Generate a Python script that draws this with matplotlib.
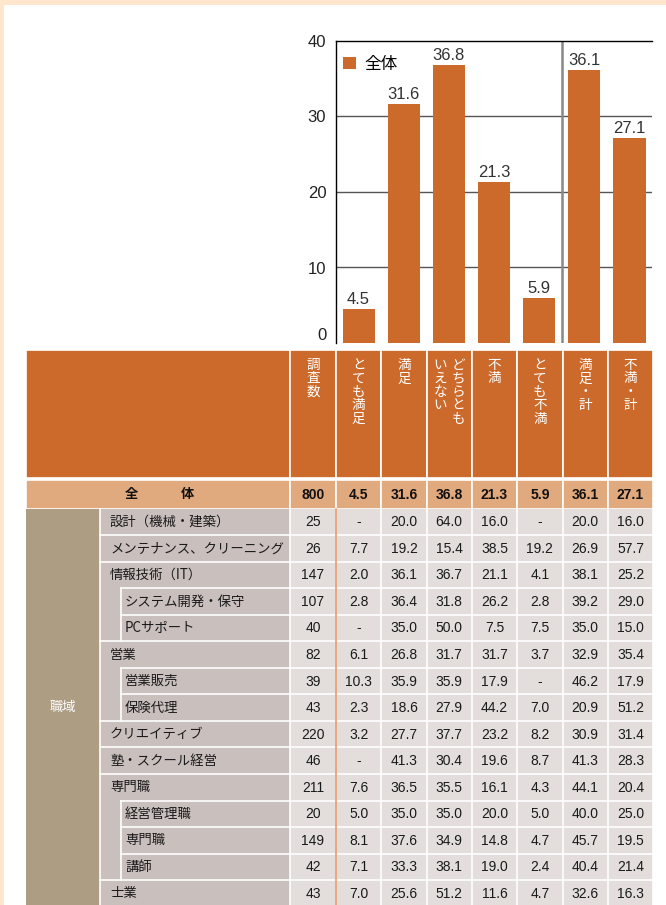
import matplotlib.pyplot as plt
from matplotlib.patches import Rectangle

plt.rcParams['font.family'] = ['Liberation Sans', 'Noto Sans CJK JP', 'DejaVu Sans']
JP = ['Noto Sans CJK JP', 'DejaVu Sans']

# data
col_heads = ['調査数', 'とても満足', '満足', 'どちらとも|いえない', '不満', 'とても不満', '満足・計', '不満・計']
bar_cats = ['とても満足', '満足', 'どちらとも\nいえない', '不満', 'とても不満', '満足・計', '不満・計']
overall_n = 800
overall = [4.5, 31.6, 36.8, 21.3, 5.9, 36.1, 27.1]

group_label = '職域'
row_labels = ['設計（機械・建築）', 'メンテナンス、クリーニング', '情報技術（IT）', 'システム開発・保守',
              'PCサポート', '営業', '営業販売', '保険代理', 'クリエイティブ', '塾・スクール経営',
              '専門職', '経営管理職', '専門職', '講師', '士業']
row_child = [0, 0, 0, 1, 1, 0, 1, 1, 0, 0, 0, 1, 1, 1, 0]
row_n = [25, 26, 147, 107, 40, 82, 39, 43, 220, 46, 211, 20, 149, 42, 43]
row_vals = [
    [None, 20.0, 64.0, 16.0, None, 20.0, 16.0],
    [7.7, 19.2, 15.4, 38.5, 19.2, 26.9, 57.7],
    [2.0, 36.1, 36.7, 21.1, 4.1, 38.1, 25.2],
    [2.8, 36.4, 31.8, 26.2, 2.8, 39.2, 29.0],
    [None, 35.0, 50.0, 7.5, 7.5, 35.0, 15.0],
    [6.1, 26.8, 31.7, 31.7, 3.7, 32.9, 35.4],
    [10.3, 35.9, 35.9, 17.9, None, 46.2, 17.9],
    [2.3, 18.6, 27.9, 44.2, 7.0, 20.9, 51.2],
    [3.2, 27.7, 37.7, 23.2, 8.2, 30.9, 31.4],
    [None, 41.3, 30.4, 19.6, 8.7, 41.3, 28.3],
    [7.6, 36.5, 35.5, 16.1, 4.3, 44.1, 20.4],
    [5.0, 35.0, 35.0, 20.0, 5.0, 40.0, 25.0],
    [8.1, 37.6, 34.9, 14.8, 4.7, 45.7, 19.5],
    [7.1, 33.3, 38.1, 19.0, 2.4, 40.4, 21.4],
    [7.0, 25.6, 51.2, 11.6, 4.7, 32.6, 16.3],
]

ORANGE = '#cc6a2c'
W, H = 666, 905

fig = plt.figure(figsize=(W / 100, H / 100), dpi=100, facecolor='#ffe6cc')

# table / background axes in pixel coordinates
ax_t = fig.add_axes([0, 0, 1, 1])
ax_t.set_xlim(0, W)
ax_t.set_ylim(H, 0)
ax_t.axis('off')
ax_t.add_patch(Rectangle((4, 5), W, H, facecolor='white', edgecolor='none'))

x_tab, x_lab, x_child, x_n, x_d = 26, 100, 121, 290, 336
cw = 45.3
n_cols = len(overall)
x_end = x_d + cw * n_cols
col_x = [x_n] + [x_d + cw * i for i in range(n_cols + 1)]
hy0, hy1 = 350, 478
oy0, oy1 = 479.5, 508.5
rh = 26.55
ry = [oy1 + rh * i for i in range(len(row_labels) + 1)]
lw = 1.2


def fmt(v):
    return '-' if v is None else f'{v:.1f}'


# header
ax_t.add_patch(Rectangle((x_tab, hy0), x_n - x_tab, hy1 - hy0, facecolor=ORANGE, edgecolor='white', lw=lw))
pitch = 13.4
for j, head in enumerate(col_heads):
    cx = (col_x[j] + col_x[j + 1]) / 2
    ax_t.add_patch(Rectangle((col_x[j], hy0), col_x[j + 1] - col_x[j], hy1 - hy0,
                             facecolor=ORANGE, edgecolor='white', lw=lw))
    parts = head.split('|')
    offs = [0] if len(parts) == 1 else [9, -9]
    for part, off in zip(parts, offs):
        for k, ch in enumerate(part):
            ax_t.text(cx + off, 365 + k * pitch, ch, ha='center', va='center', color='white',
                      fontsize=9.8, family=JP)

# overall row
OV = '#e1a97e'
ax_t.add_patch(Rectangle((x_tab, oy0), x_n - x_tab, oy1 - oy0, facecolor=OV, edgecolor='white', lw=lw))
for ch, xc in zip('全体', [131, 187]):
    ax_t.text(xc, (oy0 + oy1) / 2, ch, ha='center', va='center',
              fontsize=9.5, fontweight='bold', family=JP, color='#111')
for j, v in enumerate([overall_n] + overall):
    ax_t.add_patch(Rectangle((col_x[j], oy0), col_x[j + 1] - col_x[j], oy1 - oy0,
                             facecolor=OV, edgecolor='white', lw=lw))
    txt = str(v) if j == 0 else fmt(v)
    ax_t.text((col_x[j] + col_x[j + 1]) / 2, (oy0 + oy1) / 2 + 0.5, txt, ha='center', va='center',
              fontsize=10, fontweight='bold', color='#111')

# body fills
y_bot = ry[-1]
ax_t.add_patch(Rectangle((x_tab, oy1), x_lab - x_tab, y_bot - oy1, facecolor='#ac9d83', edgecolor='none'))
ax_t.add_patch(Rectangle((x_lab, oy1), x_n - x_lab, y_bot - oy1, facecolor='#c9bfbc', edgecolor='none'))
ax_t.add_patch(Rectangle((x_n, oy1), x_end - x_n, y_bot - oy1, facecolor='#e3dedc', edgecolor='none'))
ax_t.text((x_tab + x_lab) / 2, (oy1 + y_bot) / 2, group_label, ha='center', va='center',
          color='white', fontsize=9.5, family=JP)

for i, lab in enumerate(row_labels):
    yc = (ry[i] + ry[i + 1]) / 2
    ax_t.text(x_child + 4 if row_child[i] else x_lab + 10, yc, lab, ha='left', va='center',
              fontsize=9.6, family=JP, color='#1a1a1a')
    ax_t.text((col_x[0] + col_x[1]) / 2, yc + 0.5, str(row_n[i]), ha='center', va='center',
              fontsize=10, color='#1a1a1a')
    for j, v in enumerate(row_vals[i]):
        ax_t.text((col_x[j + 1] + col_x[j + 2]) / 2, yc + 0.5, fmt(v), ha='center', va='center',
                  fontsize=10, color='#1a1a1a')
    # white line under the row
    nxt_child = i + 1 < len(row_labels) and row_child[i + 1]
    ax_t.plot([x_child if nxt_child else x_lab, x_end], [ry[i + 1], ry[i + 1]], color='white', lw=lw)
    if row_child[i]:
        ax_t.plot([x_child, x_child], [ry[i], ry[i + 1]], color='white', lw=lw)

ax_t.plot([x_lab, x_lab], [oy1, y_bot], color='white', lw=lw)
for j, xx in enumerate(col_x):
    if j == 1:
        ax_t.plot([xx, xx], [oy1, y_bot], color='#eb9f6a', lw=lw)
    else:
        ax_t.plot([xx, xx], [oy1, y_bot], color='white', lw=lw)

# bar chart
ax = fig.add_axes([x_d / W, 1 - 343 / H, (x_end - 1 - x_d) / W, (343 - 41) / H])
xs = list(range(n_cols))
bars = ax.bar(xs, overall, width=0.71, color=ORANGE, label='全体', zorder=3)
for b, v in zip(bars, overall):
    ax.text(b.get_x() + b.get_width() / 2, v + 0.3, f'{v:.1f}', ha='center', va='bottom',
            fontsize=12, color='#333', zorder=4)
ax.set_xlim(-0.5, n_cols - 0.5)
ax.set_ylim(0, 40)
ax.set_yticks([0, 10, 20, 30, 40])
ax.set_xticks([])
ax.tick_params(axis='y', length=0, pad=7, labelsize=12, labelcolor='#222')
ax.get_yticklabels()[0].set_va('bottom')
for y in [10, 20, 30]:
    ax.axhline(y, color='#555', lw=1, zorder=1)
ax.axvline(4.5, color='#888', lw=1.8, zorder=2)
for s in ['right', 'bottom']:
    ax.spines[s].set_visible(False)
ax.spines['left'].set_color('black')
ax.spines['top'].set_color('black')
ax.spines['left'].set_linewidth(1)
ax.spines['top'].set_linewidth(1)
ax.set_facecolor('white')
leg = ax.legend(loc='upper left', bbox_to_anchor=(-0.025, 1.0), frameon=False, handlelength=0.75,
                handleheight=0.75, handletextpad=0.5, prop={'family': JP, 'size': 12})

fig.savefig('out.png', dpi=100, facecolor=fig.get_facecolor())
